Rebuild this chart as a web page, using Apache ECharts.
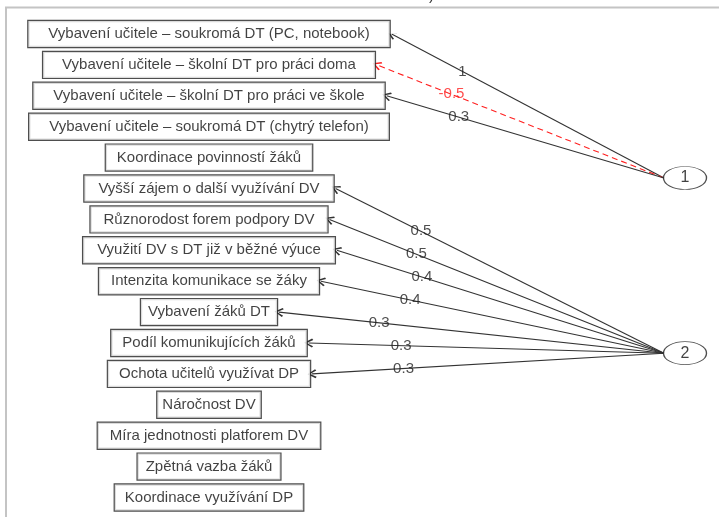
<!DOCTYPE html>
<html>
<head>
<meta charset="utf-8">
<script src="https://cdn.jsdelivr.net/npm/echarts@6/dist/echarts.min.js"></script>
<style>
html, body { margin: 0; padding: 0; background: #fff; }
#chart { width: 719px; height: 517px; }
</style>
</head>
<body>
<div id="chart"></div>
<script>
// observed variables, top to bottom
const items = [
    'Vybavení učitele – soukromá DT (PC, notebook)',
    'Vybavení učitele – školní DT pro práci doma',
    'Vybavení učitele – školní DT pro práci ve škole',
    'Vybavení učitele – soukromá DT (chytrý telefon)',
    'Koordinace povinností žáků',
    'Vyšší zájem o další využívání DV',
    'Různorodost forem podpory DV',
    'Využití DV s DT již v běžné výuce',
    'Intenzita komunikace se žáky',
    'Vybavení žáků DT',
    'Podíl komunikujících žáků',
    'Ochota učitelů využívat DP',
    'Náročnost DV',
    'Míra jednotnosti platforem DV',
    'Zpětná vazba žáků',
    'Koordinace využívání DP'
];
const factors = ['1', '2'];
const factorRows = [4.66, 10.33];

// loadings: factor index, item index, value
const loadFactor = [0, 0, 0, 1, 1, 1, 1, 1, 1, 1];
const loadItem = [0, 1, 2, 5, 6, 7, 8, 9, 10, 11];
const loadValue = [1, -0.5, 0.3, 0.5, 0.5, 0.4, 0.4, 0.3, 0.3, 0.3];

const FONT = '"Liberation Sans", Arial, sans-serif';
const gridLeft = 209, gridRight = 34;
const pxPerUnit = 719 - gridLeft - gridRight;

const ctx = document.createElement('canvas').getContext('2d');
ctx.font = '15px ' + FONT;
const padOf = w => Math.round(0.066 * w - 0.8);
const halfWidth = items.map(t => {
    const w = ctx.measureText(t).width;
    return w / 2 + padOf(w) + 1;
});

const factorEdge = 1 - 21 / pxPerUnit;
const arrowPath = 'path://M50,0 L100,86 L86,100 L50,28 L14,100 L0,86 Z';

const edges = loadItem.map((it, k) => {
    const bx = (halfWidth[it] + 1) / pxPerUnit;
    const fy = factorRows[loadFactor[k]];
    const neg = loadValue[k] < 0;
    return {
        coords: [[factorEdge, fy], [bx, it]],
        lineStyle: {
            color: neg ? '#ff2020' : '#333',
            type: neg ? [6, 4] : 'solid'
        }
    };
});

const edgeLabels = loadItem.map((it, k) => {
    const bx = (halfWidth[it] + 1) / pxPerUnit;
    const fy = factorRows[loadFactor[k]];
    const t = 0.26;
    return {
        value: [bx + t * (factorEdge - bx), it + t * (fy - it), String(loadValue[k])],
        label: { color: loadValue[k] < 0 ? '#ff2020' : '#222' }
    };
});

echarts.init(document.getElementById('chart'))
    .setOption({
        animation: false,
        grid: {
            left: gridLeft,
            right: gridRight,
            top: 34,
            bottom: 19.5
        },
        xAxis: { type: 'value', min: 0, max: 1, show: false },
        yAxis: { type: 'value', min: 0, max: 15, inverse: true, show: false },
        graphic: [
            {
                type: 'line',
                shape: { x1: 5, y1: 7.5, x2: 719, y2: 7.5 },
                style: { stroke: '#c4c4c4', lineWidth: 2 }
            },
            {
                type: 'line',
                shape: { x1: 6, y1: 7.5, x2: 6, y2: 517 },
                style: { stroke: '#c4c4c4', lineWidth: 2 }
            },
            {
                type: 'text',
                left: 429,
                top: -12,
                style: { text: ')', font: '15px ' + FONT, fill: '#333' }
            }
        ],
        series: [
            {
                type: 'lines',
                coordinateSystem: 'cartesian2d',
                symbol: ['none', arrowPath],
                symbolSize: [9, 9],
                lineStyle: { width: 1.1, opacity: 1 },
                z: 1,
                data: edges
            },
            {
                type: 'scatter',
                symbolSize: 0,
                z: 2,
                label: {
                    show: true,
                    position: 'inside',
                    formatter: p => p.value[2],
                    fontFamily: FONT,
                    fontSize: 15
                },
                data: edgeLabels
            },
            {
                type: 'scatter',
                symbolSize: 0,
                z: 3,
                label: {
                    show: true,
                    position: 'inside',
                    formatter: p => p.value[2],
                    fontFamily: FONT,
                    fontSize: 15,
                    lineHeight: 16,
                    color: '#111',
                    backgroundColor: '#fff',
                    borderColor: '#222',
                    borderWidth: 1.2
                },
                data: items.map((t, i) => {
                    const w = ctx.measureText(t).width;
                    return {
                        value: [0, i, t],
                        label: { padding: [5, padOf(w), 5, padOf(w)] }
                    };
                })
            },
            {
                type: 'scatter',
                symbol: 'path://M0,50 A50,50 0 1 1 100,50 A50,50 0 1 1 0,50 Z',
                symbolSize: [43, 23],
                z: 3,
                itemStyle: { color: '#fff', borderColor: '#222', borderWidth: 1 },
                label: {
                    show: true,
                    position: 'inside',
                    formatter: p => p.value[2],
                    fontFamily: FONT,
                    fontSize: 16,
                    color: '#111'
                },
                data: factors.map((f, j) => [1, factorRows[j], f])
            }
        ]
    });
</script>
</body>
</html>
